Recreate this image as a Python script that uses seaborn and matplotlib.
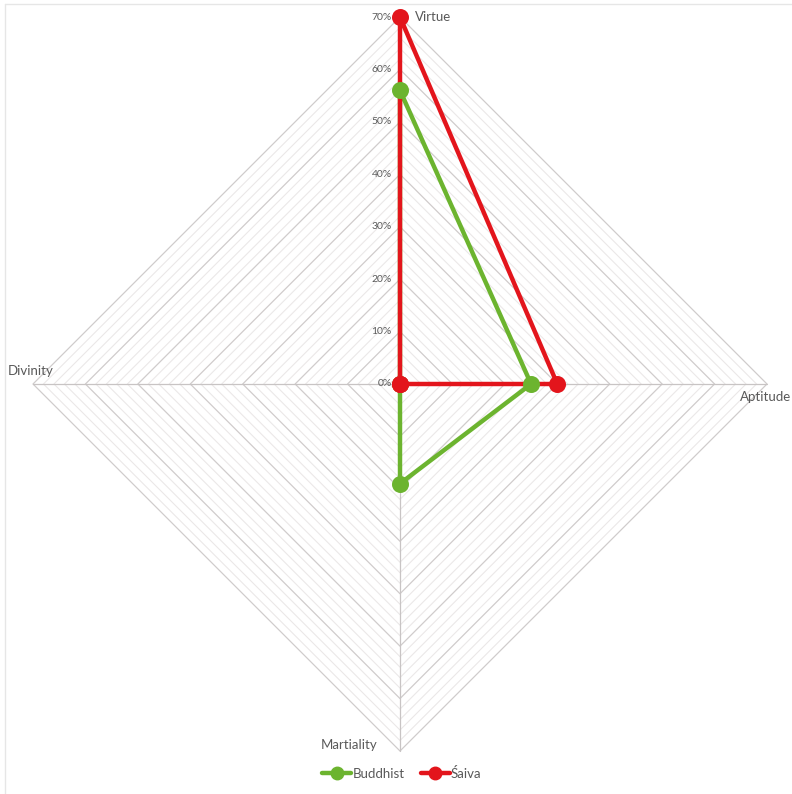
import numpy as np
import pandas as pd
import matplotlib
matplotlib.use("Agg")
import matplotlib.pyplot as plt
from matplotlib.lines import Line2D
import seaborn as sns

# Radar categories, clockwise from the top
categories = ["Virtue", "Aptitude", "Martiality", "Divinity"]
angles_deg = [90, 0, -90, 180]

# Share of each attribute (%)
buddhist = [56, 25, 19, 0]
saiva = [70, 30, 0, 0]

tick_values = [0, 10, 20, 30, 40, 50, 60, 70]
tick_labels = ["0%", "10%", "20%", "30%", "40%", "50%", "60%", "70%"]

series_names = ["Buddhist", "Śaiva"]
series_values = [buddhist, saiva]
series_colors = ["#6cb42f", "#e3151c"]

sns.set_theme(style="white")
plt.rcParams["font.family"] = ["Lato", "DejaVu Sans"]

W, H, DPI = 792, 794, 100
fig = plt.figure(figsize=(W / DPI, H / DPI), dpi=DPI)
ax = fig.add_axes([0, 0, 1, 1])

# pixel geometry of the plot area
cx, cy, rmax = 400, 384, 367
s = rmax / 70.0
ax.set_xlim(-cx / s, (W - cx) / s)
ax.set_ylim(-(H - cy) / s, cy / s)
ax.set_aspect("equal")
ax.axis("off")

ang = np.deg2rad(angles_deg)
cosv, sinv = np.cos(ang), np.sin(ang)

# diamond grid: minor rings every 2%, major every 10%
for r in np.arange(2, 71, 2):
    major = (r % 10 == 0)
    xs = list(r * cosv) + [r * cosv[0]]
    ys = list(r * sinv) + [r * sinv[0]]
    ax.plot(xs, ys, color="#d0cccc" if major else "#ebe8e8",
            lw=0.9 if major else 0.8, zorder=1)

# spokes
for c, sn in zip(cosv, sinv):
    ax.plot([0, 70 * c], [0, 70 * sn], color="#c8c4c4", lw=0.9, zorder=1.5)

# radial tick labels along the vertical spoke
for v, lab in zip(tick_values, tick_labels):
    ax.text(-1.6, v, lab, ha="right", va="center", fontsize=7.5,
            color="#595959", zorder=2)

# category labels
label_pos = {
    "Virtue": (415, 17, "left", "center"),
    "Aptitude": (791, 397, "right", "center"),
    "Martiality": (378, 745, "right", "center"),
    "Divinity": (8, 371, "left", "center"),
}
for cat in categories:
    px, py, ha, va = label_pos[cat]
    ax.text((px - cx) / s, (cy - py) / s, cat, ha=ha, va=va,
            fontsize=9.5, color="#595959", zorder=2)

# series polygons with markers
for name, vals, col in zip(series_names, series_values, series_colors):
    vals = np.asarray(vals, dtype=float)
    xs = np.append(vals * cosv, vals[0] * cosv[0])
    ys = np.append(vals * sinv, vals[0] * sinv[0])
    df = pd.DataFrame({"x": xs, "y": ys, "order": np.arange(len(xs))})
    sns.lineplot(data=df, x="x", y="y", sort=False, estimator=None,
                 color=col, lw=3.2, ax=ax, zorder=3)
    sns.scatterplot(data=df.iloc[:-1], x="x", y="y", color=col, s=150,
                    edgecolor=col, linewidth=0, ax=ax, zorder=4)

ax.set_xlabel("")
ax.set_ylabel("")

# legend at the bottom
handles = [Line2D([0], [0], color=c, lw=3.2, marker="o", markersize=9)
           for c in series_colors]
leg = fig.legend(handles, series_names, loc="center",
                 bbox_to_anchor=(402 / W, 1 - 773 / H), ncol=2, frameon=False,
                 fontsize=9.5, handlelength=2.2, handletextpad=0.1,
                 columnspacing=1.2)
for t in leg.get_texts():
    t.set_color("#595959")

# thin frame edges at the top and left
fig.add_artist(Line2D([5 / W, 1], [1 - 4 / H, 1 - 4 / H], color="#e6e6e6",
                      lw=1, transform=fig.transFigure))
fig.add_artist(Line2D([5 / W, 5 / W], [0, 1 - 4 / H], color="#e6e6e6",
                      lw=1, transform=fig.transFigure))

fig.savefig("out.png", dpi=DPI, facecolor="white")
